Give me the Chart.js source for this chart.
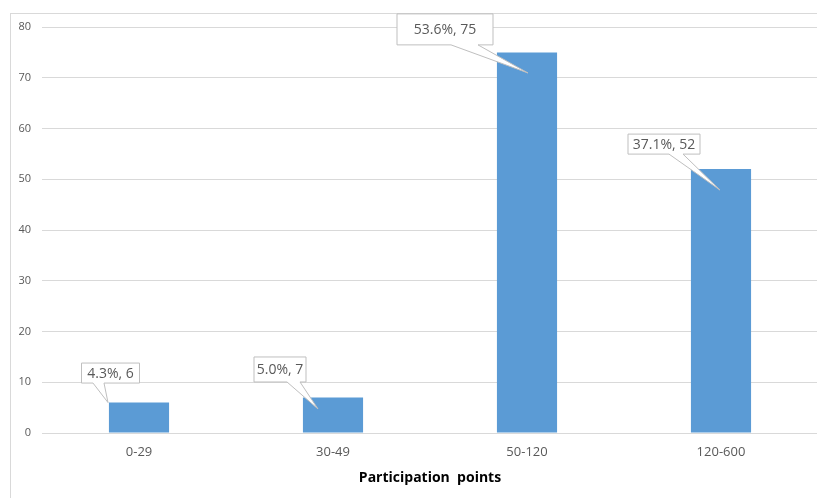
<!DOCTYPE html>
<html>
<head>
<meta charset="utf-8">
<script src="https://cdn.jsdelivr.net/npm/chart.js@4/dist/chart.umd.min.js"></script>
<style>
  html, body { margin: 0; padding: 0; background: #fff; overflow: hidden; }
  #wrap { width: 820px; height: 498px; }
</style>
</head>
<body>
<div id="wrap"><canvas id="c" width="820" height="498"></canvas></div>
<script>
// Participation point bands and number of participants in each
const categories = ['0-29', '30-49', '50-120', '120-600'];
const counts = [6, 7, 75, 52];
const shares = ['4.3%', '5.0%', '53.6%', '37.1%'];
const yTicks = [0, 10, 20, 30, 40, 50, 60, 70, 80];

const FONT = '"Open Sans", "DejaVu Sans", sans-serif';
const TEXT_GREY = '#595959';
const LINE_GREY = '#d9d9d9';

// Placement of each callout relative to the top centre of its bar
const calloutLayout = [
  { bx: -28.5, by: -29.5, w: 58, h: 20, b1: -17.5, b2: -6.5, tx: -31, ty: 0 },
  { bx: -53,   by: -28,   w: 52, h: 25, b1: 7,     b2: 20,   tx: -15, ty: 11.5 },
  { bx: -82,   by: -23,   w: 96, h: 31, b1: 6,     b2: 33,   tx: 1,   ty: 20.6 },
  { bx: -57,   by: -25,   w: 72, h: 20, b1: 5,     b2: 19,   tx: -1,  ty: 21 }
];

const frame = {
  id: 'frame',
  beforeDraw(chart) {
    const ctx = chart.ctx;
    ctx.save();
    ctx.fillStyle = '#fff';
    ctx.fillRect(0, 0, chart.width, chart.height);
    ctx.strokeStyle = LINE_GREY;
    ctx.lineWidth = 1;
    ctx.strokeRect(10.5, 13.5, 1000, 1000);
    ctx.restore();
  }
};

const callouts = {
  id: 'callouts',
  afterDatasetsDraw(chart) {
    const ctx = chart.ctx;
    const meta = chart.getDatasetMeta(0);
    ctx.save();
    meta.data.forEach((bar, i) => {
      const L = calloutLayout[i];
      const cx = bar.x + L.bx, cy = bar.y + L.by;
      const left = cx - L.w / 2, right = cx + L.w / 2;
      const top = cy - L.h / 2, bottom = cy + L.h / 2;
      const tipX = bar.x + L.tx, tipY = bar.y + L.ty;
      ctx.beginPath();
      ctx.moveTo(left, top);
      ctx.lineTo(right, top);
      ctx.lineTo(right, bottom);
      ctx.lineTo(cx + L.b2, bottom);
      ctx.lineTo(tipX, tipY);
      ctx.lineTo(cx + L.b1, bottom);
      ctx.lineTo(left, bottom);
      ctx.closePath();
      ctx.fillStyle = '#fff';
      ctx.fill();
      ctx.strokeStyle = '#bfbfbf';
      ctx.lineWidth = 1;
      ctx.stroke();
      ctx.fillStyle = TEXT_GREY;
      ctx.font = '14px ' + FONT;
      ctx.textAlign = 'center';
      ctx.textBaseline = 'middle';
      ctx.fillText(shares[i] + ', ' + counts[i], cx, cy + 0.5);
    });
    ctx.restore();
  }
};

new Chart(document.getElementById('c'), {
  type: 'bar',
  data: {
    labels: categories,
    datasets: [{
      data: counts,
      backgroundColor: '#5b9bd5',
      borderWidth: 0,
      barPercentage: 0.31,
      categoryPercentage: 1
    }]
  },
  options: {
    responsive: false,
    animation: false,
    devicePixelRatio: 1,
    layout: { padding: { top: 27, right: 2, bottom: 0, left: 0 } },
    plugins: { legend: { display: false }, tooltip: { enabled: false } },
    scales: {
      x: {
        grid: { display: false, drawTicks: false },
        border: { display: true, color: LINE_GREY, width: 1 },
        ticks: { color: TEXT_GREY, font: { family: FONT, size: 13 }, padding: 11 },
        title: {
          display: true,
          text: 'Participation  points',
          color: '#000',
          font: { family: FONT, size: 14, weight: 'bold' },
          padding: { top: 0, bottom: 12 }
        },
        afterFit(scale) { scale.height = 65; }
      },
      y: {
        min: 0,
        max: 80,
        afterBuildTicks(scale) { scale.ticks = yTicks.map(v => ({ value: v })); },
        grid: { color: LINE_GREY, drawTicks: false },
        border: { display: false },
        ticks: { color: TEXT_GREY, font: { family: FONT, size: 11 }, padding: 11 },
        afterFit(scale) { scale.width = 42; }
      }
    }
  },
  plugins: [frame, callouts]
});
</script>
</body>
</html>
